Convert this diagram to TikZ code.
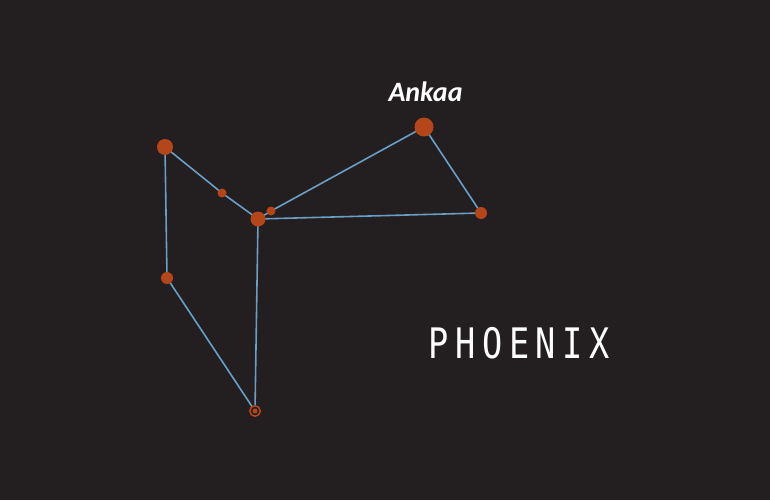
\documentclass[tikz,border=0pt]{standalone}
\usepackage{fontspec}
\newfontfamily\labelfont{Carlito}
\newfontfamily\titlefont[LetterSpace=20]{DejaVu Sans Mono}
\definecolor{bg}{HTML}{231F20}
\definecolor{starc}{HTML}{B5461A}
\definecolor{linec}{HTML}{6A9EC4}
\begin{document}
\begin{tikzpicture}[x=1pt,y=-1pt,
  star/.style={circle,fill=starc,inner sep=0pt,minimum size=#1},
  cline/.style={draw=linec,line width=1.6pt}]
\fill[bg] (0,0) rectangle (770,500);
\useasboundingbox (0,0) rectangle (770,500);
% stars
\coordinate (A) at (424,127);
\coordinate (B) at (481,213);
\coordinate (C) at (258,219);
\coordinate (D) at (271,211);
\coordinate (E) at (165,147);
\coordinate (F) at (222,193);
\coordinate (G) at (167,278);
\coordinate (H) at (255,411);
% lines
\draw[cline] (A) -- (D) -- (C) -- (B) -- (A);
\draw[cline] (E) -- (F) -- (C) -- (H) -- (G) -- (E);
% star discs
\node[star=19pt] (sA) at (A) {};
\node[star=12pt] (sB) at (B) {};
\node[star=15pt] (sC) at (C) {};
\node[star=9pt] (sD) at (D) {};
\node[star=16pt] (sE) at (E) {};
\node[star=9pt] (sF) at (F) {};
\node[star=12pt] (sG) at (G) {};
\node[circle,draw=starc,line width=1.5pt,fill=bg,inner sep=0pt,minimum size=10.5pt] (sH) at (H) {};
\node[star=5pt] (sHc) at (H) {};
% labels
\node[text=white,font=\labelfont\bfseries\itshape\fontsize{28}{30}\selectfont,anchor=base] (lA) at (425.5,102) {Ankaa};
\node[text=white,font=\titlefont\fontsize{42}{44}\selectfont,anchor=base west,inner sep=0pt] (title) at (428,358) {\scalebox{0.8}[1]{PHOENIX}};
\end{tikzpicture}
\end{document}
